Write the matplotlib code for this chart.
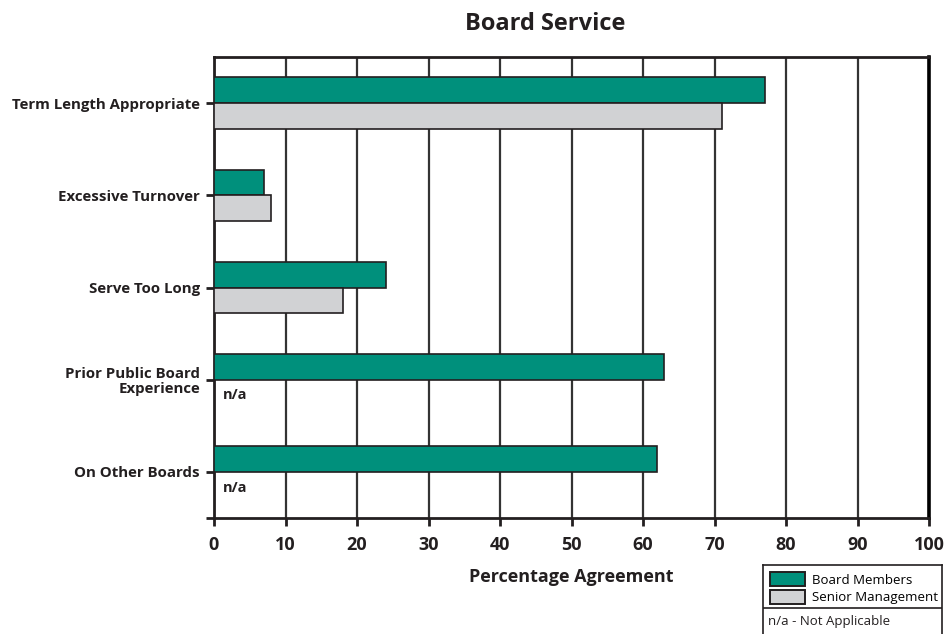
import matplotlib.pyplot as plt
import numpy as np
from matplotlib.patches import Patch

plt.rcParams["font.family"] = ["Open Sans", "DejaVu Sans"]

categories = [
    "Term Length Appropriate",
    "Excessive Turnover",
    "Serve Too Long",
    "Prior Public Board\nExperience",
    "On Other Boards",
]
board_members = [77, 7, 24, 63, 62]
senior_mgmt = [71, 8, 18, np.nan, np.nan]  # nan -> n/a
ticks = [0, 10, 20, 30, 40, 50, 60, 70, 80, 90, 100]

GREEN = "#00907c"
GREY = "#d1d2d4"
INK = "#231f20"

fig = plt.figure(figsize=(9.49, 6.34), dpi=100)
ax = fig.add_axes([0.2255, 0.183, 0.7535, 0.727])

y = np.arange(len(categories))
h = 0.28
ax.barh(y - h / 2, board_members, height=h, color=GREEN, edgecolor=INK,
        linewidth=1.2, zorder=3)
ax.barh(y + h / 2, np.nan_to_num(senior_mgmt), height=h, color=GREY,
        edgecolor=INK, linewidth=1.2, zorder=3)
for i, v in enumerate(senior_mgmt):
    if np.isnan(v):
        ax.text(1.3, i + 0.17, "n/a", fontsize=10.5, fontweight="bold",
                color=INK, va="center", ha="left", zorder=4)

ax.set_xlim(0, 100)
ax.set_ylim(len(categories) - 0.5, -0.5)
ax.set_xticks(ticks)
ax.set_xticklabels([str(t) for t in ticks], fontsize=13, fontweight="bold",
                   color=INK)
ax.set_yticks(y)
ylabels = ax.set_yticklabels(categories, fontsize=10.8, fontweight="bold",
                             color=INK, linespacing=1.05)
for lab in ylabels:
    lab.set_multialignment("right")
ax.set_yticks([len(categories) - 0.5], minor=True)
ax.tick_params(axis="both", which="both", direction="out", length=6,
               width=2, color=INK, pad=4)
ax.tick_params(axis="x", pad=7)

ax.grid(axis="x", color="#333333", linewidth=1.6, zorder=0)
ax.set_axisbelow(True)
for side in ["left", "bottom", "top"]:
    ax.spines[side].set_color(INK)
    ax.spines[side].set_linewidth(2)
ax.spines["right"].set_color("black")
ax.spines["right"].set_linewidth(2.6)

ax.set_xlabel("Percentage Agreement", fontsize=13, fontweight="bold",
              color=INK, labelpad=10)
fig.text(0.575, 0.962, "Board Service", fontsize=17, fontweight="bold",
         color=INK, ha="center", va="center")

# legend box in the bottom-right corner
lax = fig.add_axes([763 / 949, 0.0, (942 - 763) / 949, (634 - 565) / 634])
lax.set_xticks([])
lax.set_yticks([])
lax.set_xlim(0, 1)
lax.set_ylim(0, 1)
for s in lax.spines.values():
    s.set_color(INK)
    s.set_linewidth(1.2)
lax.spines["bottom"].set_visible(False)
lax.axhline(0.377, color=INK, linewidth=1.2)
handles = [
    Patch(facecolor=GREEN, edgecolor=INK, linewidth=1.4, label="Board Members"),
    Patch(facecolor=GREY, edgecolor=INK, linewidth=1.4, label="Senior Management"),
]
lax.legend(handles=handles, loc="upper left", frameon=False, fontsize=9.5,
           handlelength=2.6, handleheight=1.25, handletextpad=0.6,
           labelspacing=0.22, borderaxespad=0.3, borderpad=0.25)
lax.text(0.03, 0.18, "n/a - Not Applicable", fontsize=9.5, color=INK,
         va="center", ha="left")

fig.savefig("out.png", dpi=100)
